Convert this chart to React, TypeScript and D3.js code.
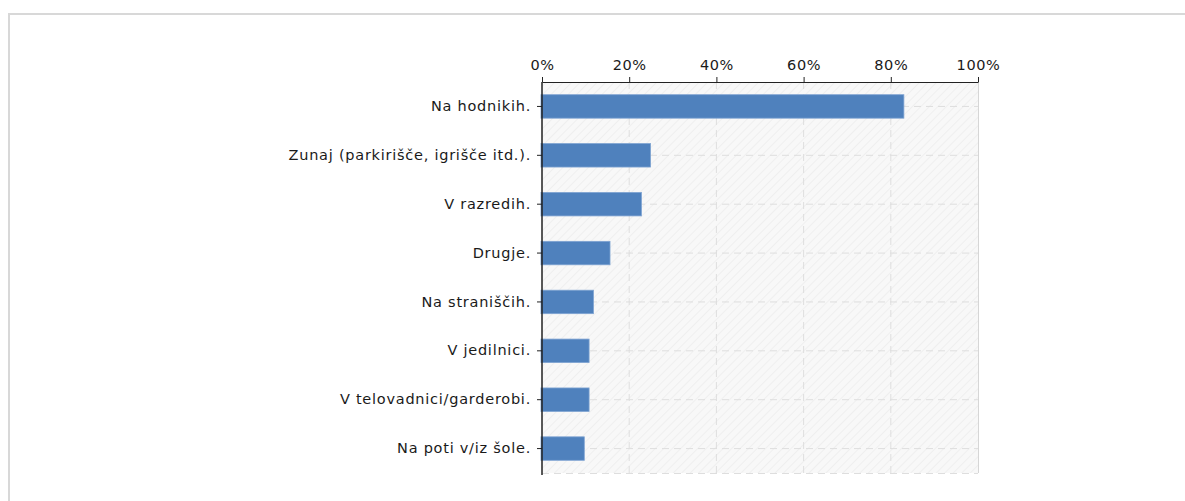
import React, { useEffect, useRef } from "react";
import * as d3 from "d3";

const categories = [
  "Na hodnikih.",
  "Zunaj (parkirišče, igrišče itd.).",
  "V razredih.",
  "Drugje.",
  "Na straniščih.",
  "V jedilnici.",
  "V telovadnici/garderobi.",
  "Na poti v/iz šole.",
];
const values = [83, 24.9, 22.8, 15.6, 11.8, 10.8, 10.8, 9.7];
const xTicks = [0, 20, 40, 60, 80, 100];

export default function App() {
  const ref = useRef<SVGSVGElement>(null);

  useEffect(() => {
    const width = 1185;
    const height = 501;
    const margin = { top: 82, left: 542, right: 207, bottom: 28 };
    const svg = d3.select(ref.current).attr("width", width).attr("height", height);
    svg.selectAll("*").remove();

    const data = categories.map((c, i) => ({ c, v: values[i] }));

    const x = d3.scaleLinear().domain([0, 100]).range([margin.left, width - margin.right]);
    const y = d3
      .scaleBand()
      .domain(categories)
      .range([margin.top, height - margin.bottom])
      .paddingInner(0.52)
      .paddingOuter(0.26);
    const font = "'DejaVu Sans', Verdana, sans-serif";

    // frame
    svg
      .append("rect")
      .attr("x", 9)
      .attr("y", 14)
      .attr("width", 1400)
      .attr("height", 600)
      .attr("fill", "none")
      .attr("stroke", "#d8d8d8")
      .attr("stroke-width", 2);

    // hatch pattern
    const defs = svg.append("defs");
    const pat = defs
      .append("pattern")
      .attr("id", "hatch")
      .attr("patternUnits", "userSpaceOnUse")
      .attr("width", 6)
      .attr("height", 6)
      .attr("patternTransform", "rotate(45)");
    pat.append("rect").attr("width", 6).attr("height", 6).attr("fill", "#f8f8f8");
    pat.append("line").attr("x1", 0).attr("y1", 0).attr("x2", 0).attr("y2", 6)
      .attr("stroke", "#ececec").attr("stroke-width", 1.5);

    const y0 = margin.top;
    const y1 = height - margin.bottom;
    svg
      .append("rect")
      .attr("x", x(0))
      .attr("y", y0)
      .attr("width", x(100) - x(0))
      .attr("height", y1 - y0)
      .attr("fill", "url(#hatch)");

    // grid
    const grid = svg.append("g").attr("stroke", "#dedede").attr("stroke-dasharray", "7,5");
    grid
      .selectAll(".gx")
      .data(xTicks.slice(1, -1))
      .join("line")
      .attr("x1", (d) => x(d))
      .attr("x2", (d) => x(d))
      .attr("y1", y0)
      .attr("y2", y1);
    grid
      .selectAll(".gy")
      .data(categories)
      .join("line")
      .attr("x1", x(0))
      .attr("x2", x(100))
      .attr("y1", (d) => y(d)! + y.bandwidth() / 2)
      .attr("y2", (d) => y(d)! + y.bandwidth() / 2);
    grid
      .append("line")
      .attr("x1", x(0))
      .attr("x2", x(100))
      .attr("y1", y1 + 0.5)
      .attr("y2", y1 + 0.5);
    svg
      .append("line")
      .attr("x1", x(100) + 0.5)
      .attr("x2", x(100) + 0.5)
      .attr("y1", y0)
      .attr("y2", y1)
      .attr("stroke", "#d6d6d6");

    // bars
    svg
      .selectAll(".bar")
      .data(data)
      .join("rect")
      .attr("x", x(0) - 1)
      .attr("y", (d) => y(d.c)!)
      .attr("width", (d) => x(d.v) - x(0) + 1)
      .attr("height", y.bandwidth())
      .attr("fill", "#4f81bd")
      .attr("stroke", "#7ea3d2")
      .attr("stroke-width", 0.8);

    // top axis
    const top = svg
      .append("g")
      .attr("transform", `translate(0,${y0})`)
      .call(
        d3
          .axisTop(x)
          .tickValues(xTicks)
          .tickSize(5)
          .tickSizeOuter(0)
          .tickPadding(7)
          .tickFormat((d) => `${d}%`)
      );
    top.select(".domain").attr("stroke", "#222").attr("stroke-width", 1.2);
    top.selectAll(".tick line").attr("stroke", "#222");
    top
      .selectAll(".tick text")
      .style("font-family", font)
      .style("font-size", "14.5px")
      .style("letter-spacing", "0.6px")
      .attr("fill", "#1a1a1a");

    // left axis
    const left = svg
      .append("g")
      .attr("transform", `translate(${x(0)},0)`)
      .call(d3.axisLeft(y).tickSize(5).tickSizeOuter(0).tickPadding(6));
    left.select(".domain").attr("d", `M0,${y0}V${y1 + 2}`).attr("stroke", "#222").attr("stroke-width", 1.5);
    left.selectAll(".tick line").attr("stroke", "#222");
    left
      .selectAll(".tick text")
      .style("font-family", font)
      .style("font-size", "14.5px")
      .style("letter-spacing", "0.75px")
      .attr("fill", "#1a1a1a");
  }, []);

  return (
    <svg
      ref={ref}
      style={{ position: "absolute", left: 0, top: 0, background: "#fff" }}
    />
  );
}
